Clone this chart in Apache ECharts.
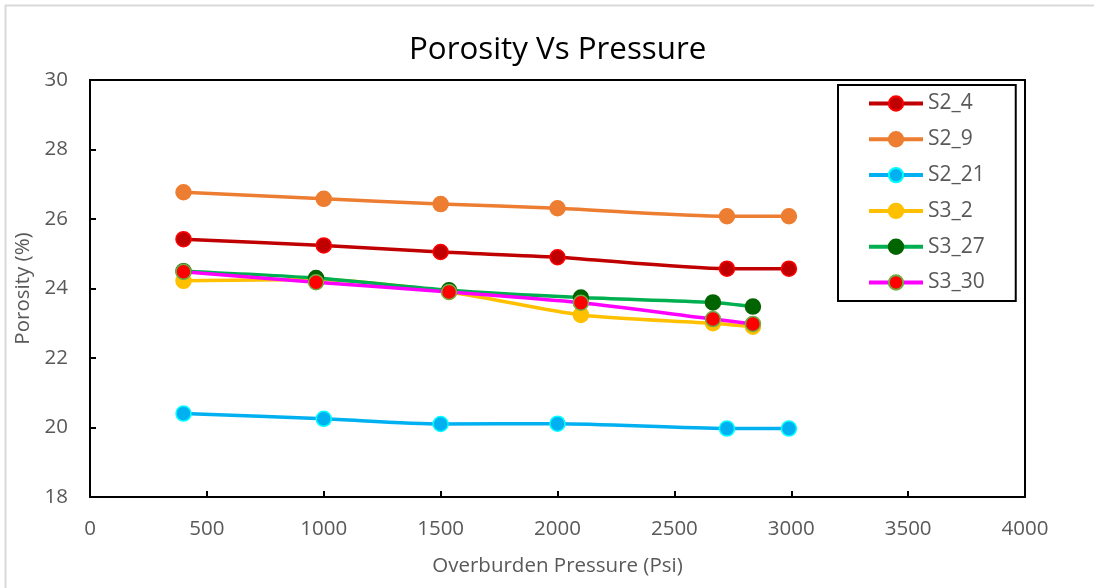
<!DOCTYPE html>
<html>
<head>
<meta charset="utf-8">
<script src="https://cdn.jsdelivr.net/npm/echarts@6/dist/echarts.min.js"></script>
<style>
  html, body { margin: 0; padding: 0; background: #fff; }
  #chart { width: 1094px; height: 588px; }
</style>
</head>
<body>
<div id="chart"></div>
<script>
// Overburden pressure (psi) at which each core was measured
const pressureS2 = [400, 1000, 1500, 2000, 2725, 2990];
const pressureS3 = [400, 967, 1536, 2100, 2665, 2836];

// Porosity (%) per sample
const s2_4  = [25.42, 25.24, 25.05, 24.90, 24.57, 24.57];
const s2_9  = [26.77, 26.58, 26.43, 26.31, 26.08, 26.08];
const s2_21 = [20.40, 20.25, 20.10, 20.11, 19.97, 19.97];
const s3_2  = [24.22, 24.26, 23.90, 23.24, 23.00, 22.90];
const s3_27 = [24.50, 24.30, 23.95, 23.74, 23.60, 23.48];
const s3_30 = [24.48, 24.18, 23.90, 23.59, 23.12, 22.98];

const xTicks = [0, 500, 1000, 1500, 2000, 2500, 3000, 3500, 4000];
const yTicks = [18, 20, 22, 24, 26, 28, 30];

const FONT = '"Open Sans", sans-serif';
const TEXT = '#595959';

function pairs(xs, ys) {
  return xs.map((x, i) => [x, ys[i]]);
}

function lineSeries(name, xs, ys, line, fill, border) {
  return {
    name: name,
    type: 'line',
    smooth: 0.25,
    data: pairs(xs, ys),
    symbol: 'circle',
    symbolSize: 15,
    lineStyle: { color: line, width: 3.5 },
    itemStyle: { color: fill, borderColor: border, borderWidth: 1.5 },
    emphasis: { disabled: true },
    z: 3
  };
}

const chart = echarts.init(document.getElementById('chart'));
chart.setOption({
  animation: false,
  backgroundColor: '#fff',
  title: {
    text: 'Porosity Vs Pressure',
    left: 404,
    top: 30,
    textStyle: { fontFamily: FONT, fontSize: 31.3, fontWeight: 'normal', color: '#000' }
  },
  graphic: [{
    type: 'rect',
    shape: { x: 5.5, y: 5.5, width: 1200, height: 700 },
    style: { fill: 'none', stroke: '#D9D9D9', lineWidth: 2 },
    silent: true,
    z: -10
  }],
  grid: {
    left: 90, top: 80, width: 935, height: 417,
    show: true, borderColor: '#000', borderWidth: 2, backgroundColor: 'transparent'
  },
  legend: {
    orient: 'vertical',
    left: 838, top: 85,
    padding: [8, 31, 8, 29],
    itemWidth: 54, itemHeight: 18, itemGap: 14.8,
    borderColor: '#000', borderWidth: 2,
    lineStyle: { width: 4 },
    textStyle: { fontFamily: FONT, fontSize: 21, color: TEXT },
    data: ['S2_4', 'S2_9', 'S2_21', 'S3_2', 'S3_27', 'S3_30']
  },
  xAxis: {
    type: 'value',
    min: xTicks[0], max: xTicks[xTicks.length - 1], interval: 500,
    name: 'Overburden Pressure (Psi)',
    nameLocation: 'middle', nameGap: 59,
    nameTextStyle: { fontFamily: FONT, fontSize: 20.5, color: TEXT },
    axisLine: { lineStyle: { color: '#000', width: 2 } },
    axisTick: { inside: true, length: 6, lineStyle: { color: '#000', width: 2 } },
    axisLabel: { fontFamily: FONT, fontSize: 20.5, color: TEXT, margin: 22,
                 formatter: v => String(v) },
    splitLine: { show: false }
  },
  yAxis: {
    type: 'value',
    min: yTicks[0], max: yTicks[yTicks.length - 1], interval: 2,
    name: 'Porosity (%)',
    nameLocation: 'middle', nameGap: 52, nameRotate: 90,
    nameTextStyle: { fontFamily: FONT, fontSize: 20.5, color: TEXT },
    axisLine: { lineStyle: { color: '#000', width: 2 } },
    axisTick: { inside: true, length: 6, lineStyle: { color: '#000', width: 2 } },
    axisLabel: { fontFamily: FONT, fontSize: 20.5, color: TEXT, margin: 22 },
    splitLine: { show: false }
  },
  series: [
    lineSeries('S2_4',  pressureS2, s2_4,  '#C00000', '#C00000', '#FF0000'),
    lineSeries('S2_9',  pressureS2, s2_9,  '#ED7D31', '#ED7D31', '#ED7D31'),
    lineSeries('S2_21', pressureS2, s2_21, '#00B0F0', '#00B0F0', '#00FFFF'),
    lineSeries('S3_2',  pressureS3, s3_2,  '#FFC000', '#FFC000', '#FFC000'),
    lineSeries('S3_27', pressureS3, s3_27, '#00B050', '#006400', '#006400'),
    lineSeries('S3_30', pressureS3, s3_30, '#FF00FF', '#FF0000', '#70AD47')
  ]
});
</script>
</body>
</html>
